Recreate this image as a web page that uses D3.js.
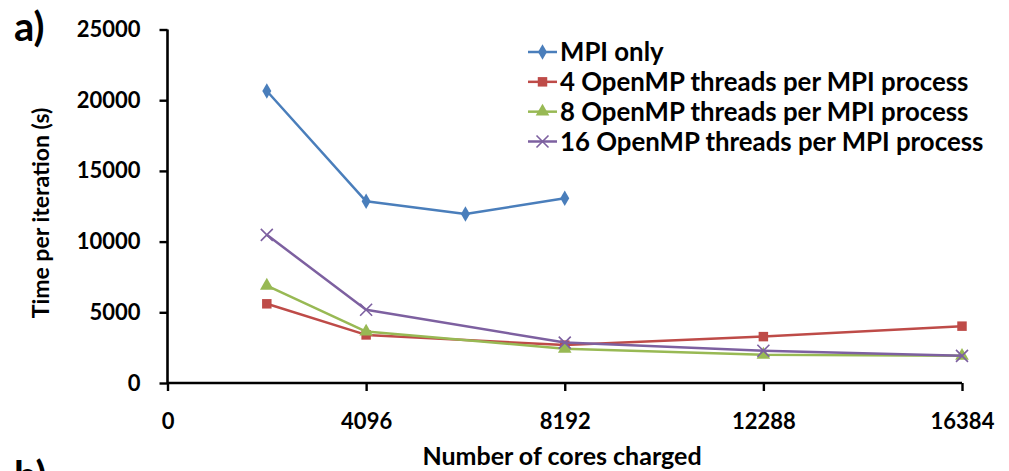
<!DOCTYPE html>
<html>
<head>
<meta charset="utf-8">
<script src="https://cdn.jsdelivr.net/npm/d3@7"></script>
<style>
  html, body { margin: 0; padding: 0; background: #fff; }
  svg { display: block; }
  text { font-family: Lato, "Open Sans", sans-serif; font-weight: bold; fill: #000; }
</style>
</head>
<body>
<svg id="chart" width="1009" height="471"></svg>
<script>
// Cores charged for each run
const cores = [2048, 4096, 6144, 8192, 12288, 16384];

// Time per iteration (s); null where a configuration was not run
const mpiOnly   = [20650, 12850, 11950, 13070, null, null];
const omp4      = [5600, 3400, null, 2680, 3280, 4020];
const omp8      = [6880, 3640, null, 2420, 2000, 1920];
const omp16     = [10480, 5180, null, 2860, 2280, 1920];

const seriesNames = [
  "MPI only",
  "4 OpenMP threads per MPI process",
  "8 OpenMP threads per MPI process",
  "16 OpenMP threads per MPI process"
];
const seriesColors = ["#4a7ebb", "#be4b48", "#98b954", "#7d60a0"];
const seriesMarkers = ["diamond", "square", "triangle", "cross"];

const xTicks = [0, 4096, 8192, 12288, 16384];
const yTicks = [0, 5000, 10000, 15000, 20000, 25000];

const svg = d3.select("#chart");

const x = d3.scaleLinear().domain([0, 16384]).range([167.5, 962]);
const y = d3.scaleLinear().domain([0, 25000]).range([383, 29.5]);

// Axes
const yAxis = d3.axisLeft(y).tickValues(yTicks).tickSize(8).tickPadding(19).tickFormat(d3.format("d"));
const xAxis = d3.axisBottom(x).tickValues(xTicks).tickSize(8).tickPadding(22).tickFormat(d3.format("d"));

const gy = svg.append("g").attr("transform", `translate(${x(0)},0)`).call(yAxis);
const gx = svg.append("g").attr("transform", `translate(0,${y(0)})`).call(xAxis);

[gx, gy].forEach(g => {
  g.select(".domain").attr("stroke", "#000").attr("stroke-width", 2.6);
  g.selectAll(".tick line").attr("stroke", "#000").attr("stroke-width", 2.4);
  g.selectAll(".tick text").style("font-size", "22px").attr("fill", "#000");
});
// Domain lines without end caps
gy.select(".domain").attr("d", `M0,${y(25000)}V${y(0)}`);
gx.select(".domain").attr("d", `M${x(0)},0H${x(16384)}`);

// Series
const allSeries = [mpiOnly, omp4, omp8, omp16].map((vals, i) => ({
  name: seriesNames[i],
  color: seriesColors[i],
  marker: seriesMarkers[i],
  points: cores.map((c, j) => ({ c, v: vals[j] })).filter(p => p.v != null)
}));

const line = d3.line().x(d => x(d.c)).y(d => y(d.v));

function drawMarker(g, type, color, cx, cy) {
  if (type === "diamond") {
    g.append("path").attr("d", d3.symbol(d3.symbolDiamond, 70)())
      .attr("transform", `translate(${cx},${cy})`).attr("fill", color);
  } else if (type === "square") {
    g.append("path").attr("d", d3.symbol(d3.symbolSquare, 90)())
      .attr("transform", `translate(${cx},${cy})`).attr("fill", color);
  } else if (type === "triangle") {
    g.append("path").attr("d", d3.symbol(d3.symbolTriangle, 80)())
      .attr("transform", `translate(${cx},${cy})`).attr("fill", color);
  } else {
    const s = 6;
    g.append("path").attr("d", `M${cx - s},${cy - s}L${cx + s},${cy + s}M${cx - s},${cy + s}L${cx + s},${cy - s}`)
      .attr("stroke", color).attr("stroke-width", 1.6).attr("fill", "none");
  }
}

allSeries.forEach(s => {
  const g = svg.append("g");
  g.append("path").datum(s.points).attr("d", line)
    .attr("fill", "none").attr("stroke", s.color).attr("stroke-width", 2.5)
    .attr("stroke-linejoin", "round");
  s.points.forEach(p => drawMarker(g, s.marker, s.color, x(p.c), y(p.v)));
});

// Legend
const legend = svg.append("g");
const legendY = d3.scaleLinear().domain([0, 3]).range([52, 141.5]);
allSeries.forEach((s, i) => {
  const ly = legendY(i);
  legend.append("line").attr("x1", 528).attr("x2", 557).attr("y1", ly).attr("y2", ly)
    .attr("stroke", s.color).attr("stroke-width", 2.5);
  drawMarker(legend, s.marker, s.color, 542.5, ly);
  legend.append("text").attr("x", 560).attr("y", ly + 9).style("font-size", "25.8px").text(s.name);
});

// Axis titles
svg.append("text").attr("x", 562).attr("y", 465).attr("text-anchor", "middle")
  .style("font-size", "25px").text("Number of cores charged");
svg.append("text").attr("transform", "translate(49,213) rotate(-90)").attr("text-anchor", "middle")
  .style("font-size", "23px").text("Time per iteration (s)");

// Panel labels
svg.append("text").attr("x", 14).attr("y", 41).style("font-size", "40px").text("a)");
svg.append("text").attr("x", 14).attr("y", 490).style("font-size", "40px").text("b)");
</script>
</body>
</html>
